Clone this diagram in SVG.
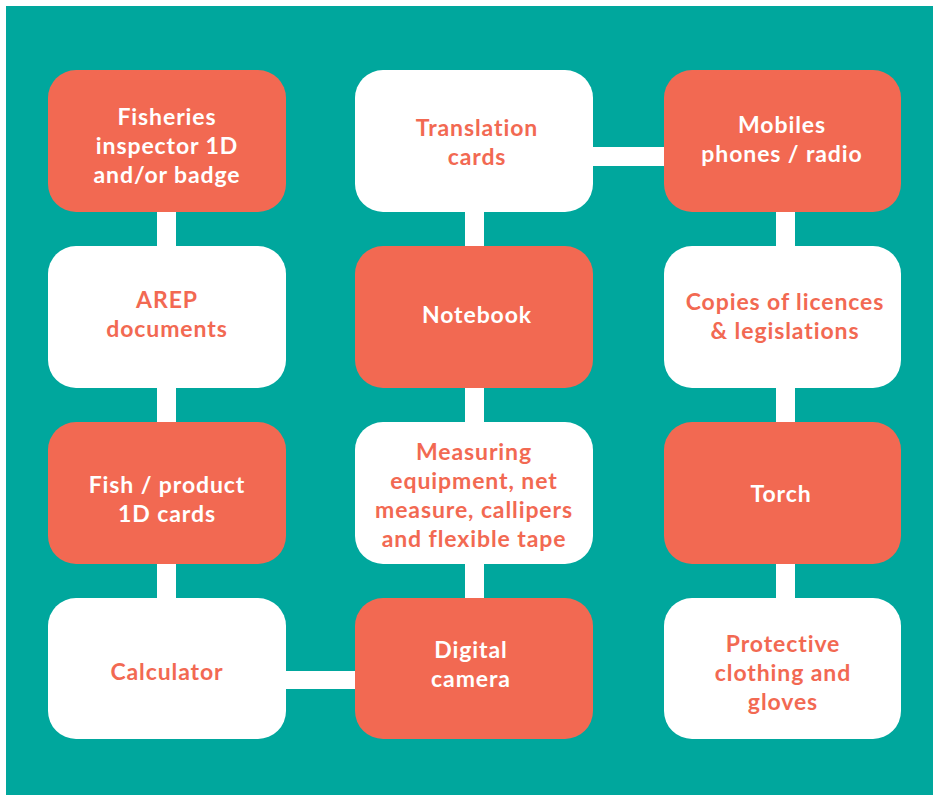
<svg xmlns="http://www.w3.org/2000/svg" width="933" height="795" viewBox="0 0 933 795">
<style>
.bg{fill:#00A79D}
.s{fill:#F26952}
.w{fill:#FFFFFF}
.c{fill:#FFFFFF}
text{font-family:"Lato","DejaVu Sans",sans-serif;font-weight:700;font-size:23px;letter-spacing:0.9px;text-anchor:middle}
.tw{fill:#FFFFFF}
.ts{fill:#F26952}
</style>
<rect width="933" height="795" fill="#FFFFFF"/>
<rect class="bg" x="6" y="6" width="927" height="789"/>
<g id="connectors">
<rect class="c" x="157" y="200" width="19" height="60"/>
<rect class="c" x="157" y="376" width="19" height="60"/>
<rect class="c" x="157" y="552" width="19" height="60"/>
<rect class="c" x="465" y="200" width="19" height="60"/>
<rect class="c" x="465" y="376" width="19" height="60"/>
<rect class="c" x="465" y="552" width="19" height="60"/>
<rect class="c" x="776" y="200" width="19" height="60"/>
<rect class="c" x="776" y="376" width="19" height="60"/>
<rect class="c" x="776" y="552" width="19" height="60"/>
<rect class="c" x="580" y="147" width="96" height="19"/>
<rect class="c" x="274" y="671" width="94" height="18"/>
</g>
<g id="n1"><rect class="s" x="48" y="70" width="238" height="142" rx="28"/>
<text class="tw"><tspan x="167" y="125">Fisheries</tspan><tspan x="167" y="154">inspector 1D</tspan><tspan x="167" y="183">and/or badge</tspan></text></g>
<g id="n2"><rect class="w" x="355" y="70" width="238" height="142" rx="28"/>
<text class="ts"><tspan x="477" y="136">Translation</tspan><tspan x="477" y="165">cards</tspan></text></g>
<g id="n3"><rect class="s" x="664" y="70" width="237" height="142" rx="28"/>
<text class="tw"><tspan x="782" y="133">Mobiles</tspan><tspan x="782" y="162">phones / radio</tspan></text></g>
<g id="n4"><rect class="w" x="48" y="246" width="238" height="142" rx="28"/>
<text class="ts"><tspan x="167" y="308">AREP</tspan><tspan x="167" y="337">documents</tspan></text></g>
<g id="n5"><rect class="s" x="355" y="246" width="238" height="142" rx="28"/>
<text class="tw"><tspan x="477" y="323">Notebook</tspan></text></g>
<g id="n6"><rect class="w" x="664" y="246" width="237" height="142" rx="28"/>
<text class="ts"><tspan x="785" y="310">Copies of licences</tspan><tspan x="785" y="339">&amp; legislations</tspan></text></g>
<g id="n7"><rect class="s" x="48" y="422" width="238" height="142" rx="28"/>
<text class="tw"><tspan x="167" y="493">Fish / product</tspan><tspan x="167" y="522">1D cards</tspan></text></g>
<g id="n8"><rect class="w" x="355" y="422" width="238" height="142" rx="28"/>
<text class="ts"><tspan x="474" y="460">Measuring</tspan><tspan x="474" y="489">equipment, net</tspan><tspan x="474" y="518">measure, callipers</tspan><tspan x="474" y="547">and flexible tape</tspan></text></g>
<g id="n9"><rect class="s" x="664" y="422" width="237" height="142" rx="28"/>
<text class="tw"><tspan x="781" y="502">Torch</tspan></text></g>
<g id="n10"><rect class="w" x="48" y="598" width="238" height="141" rx="28"/>
<text class="ts"><tspan x="167" y="680">Calculator</tspan></text></g>
<g id="n11"><rect class="s" x="355" y="598" width="238" height="141" rx="28"/>
<text class="tw"><tspan x="471" y="658">Digital</tspan><tspan x="471" y="687">camera</tspan></text></g>
<g id="n12"><rect class="w" x="664" y="598" width="237" height="141" rx="28"/>
<text class="ts"><tspan x="783" y="652">Protective</tspan><tspan x="783" y="681">clothing and</tspan><tspan x="783" y="710">gloves</tspan></text></g>
</svg>
